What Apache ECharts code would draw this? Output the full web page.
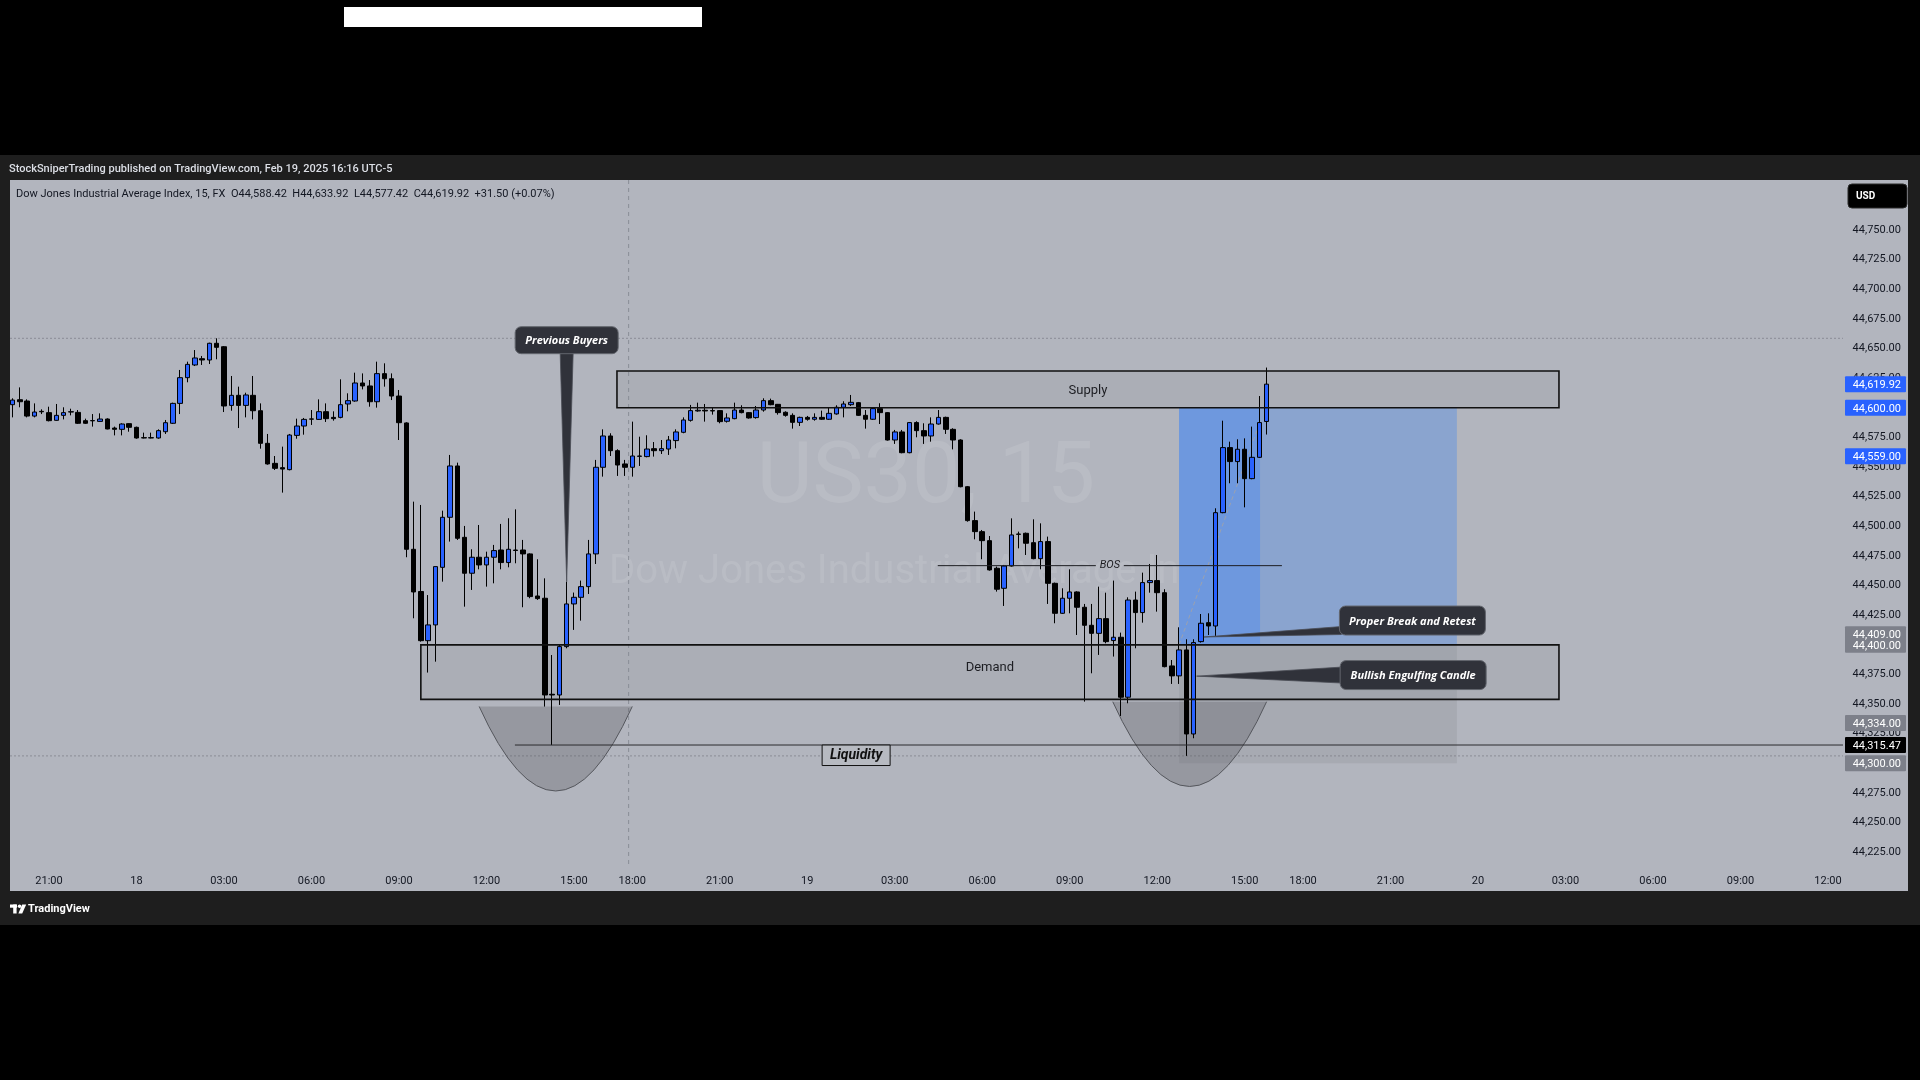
<!DOCTYPE html>
<html><head><meta charset="utf-8">
<script src="https://cdn.jsdelivr.net/npm/echarts@6/dist/echarts.min.js"></script>
<style>html,body{margin:0;padding:0;background:#000;overflow:hidden}#c{width:1920px;height:1080px}</style>
</head><body><div id="c"></div>
<script>
// ================= DATA (15-min bars, US30) =================
const opens = [44602.6,44606.8,44605.7,44593.0,44597.0,44595.9,44589.4,44593.6,44596.4,44596.1,44589.1,44589.2,44588.5,44590.5,44582.9,44581.8,44586.6,44583.5,44574.8,44574.5,
44574.5,44579.8,44586.9,44603.7,44625.4,44636.1,44641.4,44640.3,44654.4,44651.5,44602.0,44610.5,44602.0,44610.5,44597.5,44570.0,44553.1,44549.5,44547.8,44576.7,
44584.6,44590.6,44590.2,44596.7,44591.9,44591.9,44603.2,44605.7,44620.9,44618.4,44605.1,44628.8,44624.5,44609.9,44587.2,44480.6,44445.0,44403.5,44416.8,44465.4,
44507.6,44550.9,44490.7,44460.4,44473.9,44467.4,44473.9,44480.0,44469.4,44480.0,44480.0,44476.7,44441.2,44439.3,44358.3,44357.7,44398.5,44434.5,44440.1,44449.1,
44476.7,44549.8,44576.2,44563.8,44552.6,44549.8,44559.0,44558.8,44565.5,44563.8,44565.2,44572.3,44579.3,44589.4,44597.3,44597.9,44597.6,44597.6,44588.6,44590.8,
44598.1,44595.9,44591.7,44598.1,44606.0,44602.9,44596.2,44593.6,44587.7,44591.9,44590.3,44591.9,44590.3,44594.8,44600.4,44602.6,44604.3,44593.6,44590.3,44599.3,
44595.9,44572.8,44579.6,44562.1,44587.5,44580.7,44576.2,44586.3,44591.9,44581.8,44572.8,44533.4,44504.8,44495.5,44487.9,44464.6,44447.7,44466.5,44493.5,44494.1,
44486.2,44472.7,44487.1,44451.9,44426.6,44439.3,44444.6,44431.7,44416.5,44409.7,44422.1,44403.6,44406.4,44355.8,44437.8,44427.2,44452.5,44454.2,44444.0,44382.2,
44373.8,44395.7,44324.8,44402.7,44418.7,44415.9,44511.5,44566.4,44554.6,44565.0,44540.2,44558.2,44588.42];
const closes = [44606.5,44605.1,44593.0,44596.4,44596.6,44589.1,44593.6,44595.9,44596.7,44586.9,44586.9,44589.0,44590.5,44582.1,44581.8,44586.3,44583.5,44574.5,44574.5,44574.8,
44580.7,44587.4,44603.7,44625.4,44636.6,44642.0,44640.3,44654.4,44651.0,44601.5,44610.5,44602.0,44610.8,44597.5,44570.0,44552.6,44548.9,44548.3,44577.0,44584.6,
44590.2,44590.4,44596.7,44590.8,44590.8,44602.6,44606.0,44620.9,44618.4,44605.1,44628.8,44624.5,44609.9,44587.4,44480.6,44444.6,44403.5,44416.8,44466.0,44507.6,
44550.9,44489.9,44460.4,44473.9,44467.4,44473.9,44479.5,44469.4,44480.6,44479.6,44476.7,44440.7,44439.0,44357.7,44357.7,44398.5,44434.5,44440.1,44449.1,44476.7,
44549.8,44576.2,44563.8,44551.7,44549.8,44559.3,44559.3,44565.2,44563.8,44565.5,44572.8,44579.6,44589.7,44597.6,44597.9,44597.3,44597.3,44588.3,44591.4,44598.1,
44595.9,44591.4,44598.1,44606.0,44602.6,44595.9,44593.6,44587.7,44591.9,44590.3,44591.9,44590.3,44595.3,44600.4,44603.2,44604.6,44593.6,44590.3,44599.3,44595.9,
44572.8,44579.6,44562.1,44587.5,44580.7,44576.2,44586.3,44591.9,44581.8,44572.8,44533.4,44504.8,44495.5,44487.9,44463.2,44446.9,44466.5,44492.7,44493.2,44485.7,
44472.7,44487.1,44451.9,44426.6,44439.3,44444.6,44431.7,44416.5,44409.7,44422.1,44402.7,44406.4,44355.8,44437.8,44427.2,44452.5,44454.2,44444.0,44381.6,44373.8,
44395.7,44324.8,44401.9,44418.2,44415.9,44511.5,44566.4,44554.6,44565.0,44540.2,44558.2,44587.5,44619.92];
const lows = [44591.9,44600.4,44591.9,44591.9,44594.7,44588.5,44589.1,44590.2,44593.6,44586.3,44586.3,44584.1,44588.0,44581.8,44576.7,44576.7,44579.8,44573.9,44574.2,44574.2,
44573.9,44577.9,44586.3,44594.7,44621.5,44635.2,44636.1,44636.9,44640.9,44596.4,44597.5,44582.9,44591.9,44590.2,44565.5,44552.0,44547.5,44528.4,44547.2,44573.9,
44577.3,44585.5,44589.7,44588.0,44589.1,44591.1,44597.0,44605.1,44615.5,44600.9,44600.1,44617.8,44606.5,44572.8,44473.9,44422.4,44402.7,44376.6,44385.8,44453.3,
44487.1,44488.5,44432.2,44446.3,44463.7,44449.1,44451.9,44463.7,44465.4,44468.8,44431.7,44439.3,44437.9,44347.9,44315.5,44349.3,44397.1,44412.6,44420.4,44442.9,
44468.2,44541.9,44559.3,44542.5,44542.5,44541.9,44550.9,44558.2,44558.8,44561.0,44560.2,44565.8,44578.5,44588.3,44596.7,44588.3,44594.2,44586.9,44587.5,44590.3,
44595.3,44590.8,44590.8,44596.7,44602.1,44594.2,44592.5,44582.4,44584.6,44589.1,44589.1,44589.7,44589.7,44594.2,44591.9,44601.5,44593.1,44582.4,44589.7,44586.3,
44572.3,44569.5,44561.6,44561.6,44575.1,44569.5,44571.4,44585.8,44577.9,44564.9,44532.9,44503.9,44489.0,44472.2,44462.6,44444.9,44432.8,44466.0,44481.4,44475.8,
44472.2,44463.7,44434.5,44418.2,44426.1,44426.6,44408.3,44352.1,44376.0,44391.5,44401.3,44390.1,44340.0,44350.7,44397.1,44418.7,44444.0,44428.0,44381.0,44367.0,
44367.0,44306.3,44321.2,44401.9,44408.3,44407.5,44511.0,44536.3,44536.3,44516.0,44539.7,44557.6,44577.42];
const highs = [44608.0,44617.2,44607.1,44603.7,44598.7,44600.9,44603.2,44600.4,44599.2,44598.1,44590.8,44594.7,44595.3,44591.1,44584.1,44586.9,44586.9,44584.1,44579.0,44579.0,
44581.8,44589.7,44604.3,44631.9,44638.9,44648.7,44643.7,44654.9,44658.6,44652.1,44626.8,44617.8,44612.7,44626.8,44603.7,44577.9,44559.3,44567.2,44577.9,44590.8,
44591.4,44598.1,44607.1,44603.7,44597.0,44624.0,44612.2,44629.6,44629.0,44623.4,44638.9,44637.5,44629.0,44615.0,44587.8,44520.8,44518.0,44442.0,44466.0,44513.2,
44560.2,44553.7,44500.3,44480.6,44501.1,44478.6,44484.3,44502.0,44506.8,44514.3,44488.5,44477.2,44472.2,44456.1,44391.4,44399.9,44453.3,44444.1,44454.2,44488.5,
44556.0,44581.8,44578.5,44565.0,44556.0,44588.3,44575.6,44576.8,44571.1,44572.8,44576.2,44581.8,44591.9,44602.4,44604.3,44603.2,44600.4,44598.1,44595.3,44604.3,
44602.1,44596.4,44601.5,44608.0,44607.7,44603.2,44597.0,44595.3,44592.5,44593.1,44595.3,44597.6,44600.4,44602.1,44605.5,44610.8,44604.9,44598.1,44599.8,44603.8,
44596.4,44581.3,44581.3,44588.0,44588.6,44586.9,44591.9,44598.1,44592.5,44582.7,44573.4,44534.0,44512.4,44496.9,44491.8,44466.0,44467.4,44506.7,44495.5,44494.7,
44505.9,44502.5,44491.3,44452.5,44447.7,44463.7,44445.2,44434.5,44434.5,44449.1,44444.0,44454.2,44410.3,44440.1,44444.9,44460.9,44468.2,44475.8,44446.9,44387.2,
44414.8,44404.7,44404.7,44426.0,44426.6,44515.2,44589.1,44571.4,44573.4,44574.2,44584.1,44609.9,44633.92];

// time axis: 15-minute bars from Feb 17 19:45, daily break 17:00-18:00 skipped
const barCount = 251;
const dayLabels = {17:'17', 18:'18', 19:'19', 20:'20'};
const categories = [];
(function(){ let d=17,h=19,m=45;
  while(categories.length<barCount){
    if(h!==17) categories.push(d+' '+String(h).padStart(2,'0')+':'+String(m).padStart(2,'0'));
    m+=15; if(m===60){m=0;h++; if(h===24){h=0;d++;}}
  }})();

// price axis
const priceMin = 44200, priceMax = 44800, priceStep = 25;
const labelRange = [44225, 44750];

// annotation levels (data coordinates: bar index, price)
const supplyZone = {from: 82.9, to: 212.1, top: 44631, bottom: 44600, labelPrice: 44614.0};
const demandZone = {from: 56.0, to: 212.1, top: 44400, bottom: 44354, labelPrice: 44381.0};
const liquidity = {from: 68.9, price: 44315.47, labelAt: 115.7};
const bos = {from: 126.9, to: 174.1, price: 44466.8, labelAt: 150.5};
const longPos = {from: 160.0, now: 171.1, to: 198.1, target: 44600, entry: 44400, stop: 44300, lineEnd: 44588};
const bowls = [{from: 64.0, to: 85.0, top: 44348, bottom: 44276.7}, {from: 150.9, to: 172.0, top: 44352, bottom: 44280.5}];
const callouts = [
  {text: 'Previous Buyers', at: [76.0, 44657], tip: [76.0, 44453.3], side: 'bottom'},
  {text: 'Proper Break and Retest', at: [192.0, 44420.5], tip: [163.4, 44406.6], side: 'left1'},
  {text: 'Bullish Engulfing Candle', at: [192.1, 44374.5], tip: [162.4, 44373.6], side: 'left2'}
];
const axisTags = [[44619.92,'#2962ff','#ffffff'],[44600,'#2962ff','#ffffff'],[44559,'#2962ff','#ffffff'],
  [44409,'#7d808a','#ffffff'],[44400,'#7d808a','#ffffff'],[44334,'#7d808a','#ffffff'],[44315.47,'#000000','#ffffff'],[44300,'#7d808a','#ffffff']];
const sessionBreakAt = 84.5;

// ================= CHART =================
const fmt = v => v.toLocaleString('en-US',{minimumFractionDigits:2,maximumFractionDigits:2});
const chart = echarts.init(document.getElementById('c'), null, {renderer:'canvas', width:1920, height:1080});
const FONT = 'Roboto, "Liberation Sans", sans-serif';

chart.setOption({
  backgroundColor: '#000000',
  animation: false,
  grid: {left: 8.9, top: 170.7, width: 1830.04, height: 711.2},
  xAxis: {type:'category', data: categories, boundaryGap: true,
    axisLine:{show:false}, axisTick:{show:false}, splitLine:{show:false},
    axisLabel:{color:'#131722', fontSize:11, fontFamily:FONT, margin:-6.5,
      interval:(i,v)=>{const t=v.split(' ')[1]; const h=+t.slice(0,2), m=+t.slice(3); return m===0 && h%3===0;},
      formatter:(v)=>{const p=v.split(' '); return p[1]==='00:00'? dayLabels[p[0]] : p[1];}}},
  yAxis: {type:'value', position:'right', min: priceMin, max: priceMax, interval: priceStep,
    axisLine:{show:false}, axisTick:{show:false}, splitLine:{show:false},
    axisLabel:{color:'#131722', fontSize:11, fontFamily:FONT, align:'right', margin:62, padding:[2,0,0,0],
      formatter:(v)=> (v<labelRange[0]||v>labelRange[1]) ? '' : fmt(v)}},
  series: [{type:'candlestick', barWidth:5, z:3,
    data: opens.map((o,i)=>[o, closes[i], lows[i], highs[i]]),
    itemStyle:{color:'#2962ff', color0:'#000000', borderColor:'#000000', borderColor0:'#000000', borderWidth:1}}]
});

const X0 = chart.convertToPixel({xAxisIndex:0}, 0), X1 = chart.convertToPixel({xAxisIndex:0}, 1);
const X = i => X0 + (X1 - X0) * i;
const Y = p => chart.convertToPixel({yAxisIndex:0}, p);
const g = [];
const txt = (text, x, y, font, fill, align, z) => ({type:'text', z: z||20, silent:true,
  style:{text, x, y, font, fill, textAlign: align||'left', align: align||'left', textVerticalAlign:'middle', verticalAlign:'middle'}});

// frame
g.push({type:'rect', z:-30, shape:{x:0,y:155,width:1920,height:770}, style:{fill:'#1e1e1e'}});
g.push({type:'rect', z:-29, shape:{x:10,y:180,width:1898,height:711}, style:{fill:'#b2b5be'}});
g.push({type:'rect', z:-29, shape:{x:344,y:7,width:358,height:20}, style:{fill:'#ffffff'}});
const plotRight = 1843, paneLeft = 10, paneTop = 180, paneBottom = 867;

// watermark
g.push(txt('US30, 15', 926, 480, '86px '+FONT, 'rgba(255,255,255,0.10)', 'center', -25));
g.push(txt('Dow Jones Industrial Average Index', 926, 573, '40px '+FONT, 'rgba(255,255,255,0.10)', 'center', -25));

// range high/low dotted lines and session break
const hi = Math.max(...highs), lo = Math.min(...lows);
[hi, lo].forEach(p => g.push({type:'line', z:-20, shape:{x1:paneLeft, y1:Y(p), x2:plotRight, y2:Y(p)}, style:{stroke:'#8a8d96', lineWidth:1, lineDash:[2,2]}}));
g.push({type:'line', z:-20, shape:{x1:X(sessionBreakAt), y1:paneTop, x2:X(sessionBreakAt), y2:paneBottom}, style:{stroke:'#8a8d96', lineWidth:1, lineDash:[4,4]}});

// long position tool
g.push({type:'rect', z:-15, shape:{x:X(longPos.from), y:Y(longPos.target), width:X(longPos.to)-X(longPos.from), height:Y(longPos.entry)-Y(longPos.target)}, style:{fill:'#8aa4cf'}});
g.push({type:'rect', z:-14, shape:{x:X(longPos.from), y:Y(longPos.target), width:X(longPos.now)-X(longPos.from), height:Y(longPos.entry)-Y(longPos.target)}, style:{fill:'#6e98de'}});
g.push({type:'rect', z:-15, shape:{x:X(longPos.from), y:Y(longPos.entry), width:X(longPos.to)-X(longPos.from), height:Y(longPos.stop)-Y(longPos.entry)}, style:{fill:'rgba(110,112,120,0.16)'}});
g.push({type:'line', z:-13, shape:{x1:X(longPos.from), y1:Y(longPos.entry), x2:X(longPos.now), y2:Y(longPos.lineEnd)}, style:{stroke:'rgba(160,162,170,0.9)', lineWidth:1, lineDash:[4,3]}});

// zones
[[supplyZone,'Supply'],[demandZone,'Demand']].forEach(([z,name]) => {
  const x1 = X(z.from), x2 = X(z.to), y1 = Y(z.top), y2 = Y(z.bottom);
  g.push({type:'rect', z:-12, shape:{x:x1,y:y1,width:x2-x1,height:y2-y1}, style:{fill:'rgba(140,142,150,0.18)'}});
  g.push({type:'rect', z:10, shape:{x:x1,y:y1,width:x2-x1,height:y2-y1}, style:{fill:'none', stroke:'#111111', lineWidth:1.6}});
  g.push(txt(name, (x1+x2)/2, Y(z.labelPrice), '13px '+FONT, '#1c1d22', 'center', 12));
});

// bowls
bowls.forEach(b => {
  const x1 = X(b.from), x2 = X(b.to), yt = Y(b.top), yb = Y(b.bottom);
  g.push({type:'bezierCurve', z:-11, shape:{x1:x1, y1:yt, x2:x2, y2:yt, cpx1:(x1+x2)/2, cpy1: yt + 2*(yb-yt)},
    style:{fill:'rgba(85,86,92,0.3)', stroke:'#55575d', lineWidth:1}});
});

// liquidity ray
const ly = Y(liquidity.price);
g.push({type:'line', z:11, shape:{x1:X(liquidity.from), y1:ly, x2:plotRight, y2:ly}, style:{stroke:'#2b2b2e', lineWidth:1}});
const lcx = X(liquidity.labelAt);
g.push({type:'rect', z:12, shape:{x:lcx-34, y:ly, width:68, height:20.5}, style:{fill:'#b7bac1', stroke:'#111', lineWidth:1}});
g.push(txt('Liquidity', lcx, ly+10.5, 'italic bold 14px '+FONT, '#111111', 'center', 13));

// BOS
const by = Y(bos.price), bx = X(bos.labelAt);
g.push({type:'line', z:11, shape:{x1:X(bos.from), y1:by, x2:bx-14, y2:by}, style:{stroke:'#1e1e22', lineWidth:1}});
g.push({type:'line', z:11, shape:{x1:bx+14, y1:by, x2:X(bos.to), y2:by}, style:{stroke:'#1e1e22', lineWidth:1}});
g.push(txt('BOS', bx, by, 'italic 11px '+FONT, '#1e1e22', 'center', 12));

// callouts
callouts.forEach(c => {
  const cx = X(c.at[0]), cy = Y(c.at[1]), tx = X(c.tip[0]), ty = Y(c.tip[1]);
  const w = c.side==='bottom' ? 103 : 146, h = c.side==='bottom' ? 27 : 29;
  const bx0 = cx - w/2, by0 = cy - h/2;
  let pts;
  if (c.side==='bottom') pts = [[cx-6.5, by0+h-1],[cx+6.5, by0+h-1],[tx, ty]];
  else if (c.side==='left1') pts = [[bx0+2, cy+6],[bx0+2, cy+h/2-0.5],[tx, ty]];
  else pts = [[bx0+2, cy-8],[bx0+2, cy+8],[tx, ty]];
  g.push({type:'polygon', z:14, shape:{points:pts}, style:{fill:'#30323a', stroke:'#4a4d55', lineWidth:0.8}});
  g.push({type:'rect', z:15, shape:{x:bx0, y:by0, width:w, height:h, r:6}, style:{fill:'#30323a', stroke:'#62656d', lineWidth:1}});
  g.push(txt(c.text, cx, cy+1, 'italic bold 11px "Open Sans", '+FONT, '#ffffff', 'center', 16));
});

// price tags on the axis
axisTags.forEach(([p, bg, fg]) => {
  const y = Y(p);
  g.push({type:'rect', z:30, shape:{x:1845, y:y-8, width:61, height:16, r:1}, style:{fill:bg}});
  g.push(txt(fmt(p), 1901, y+1, '11px '+FONT, fg, 'right', 31));
});

// USD badge
g.push({type:'rect', z:30, shape:{x:1848,y:184,width:59,height:24,r:4}, style:{fill:'#000000', stroke:'#2a2a2a', lineWidth:1}});
g.push(txt('USD', 1856, 196.5, 'bold 10px '+FONT, '#ffffff', 'left', 31));

// header and legend
g.push(txt('StockSniperTrading published on TradingView.com, Feb 19, 2025 16:16 UTC-5', 9, 169, '500 11px '+FONT, '#dcdfe6', 'left', 31));
const L = opens.length-1, chg = closes[L]-opens[L];
g.push(txt('Dow Jones Industrial Average Index, 15, FX  O'+fmt(opens[L])+'  H'+fmt(highs[L])+'  L'+fmt(lows[L])+'  C'+fmt(closes[L])+'  +'+chg.toFixed(2)+' (+'+(chg/opens[L]*100).toFixed(2)+'%)',
  16, 194.2, '11px '+FONT, '#131722', 'left', 31));

// TradingView footer logo
g.push({type:'rect', z:31, shape:{x:10,y:904.5,width:7,height:3.2}, style:{fill:'#ffffff'}});
g.push({type:'rect', z:31, shape:{x:13.2,y:904.5,width:3.4,height:9}, style:{fill:'#ffffff'}});
g.push({type:'circle', z:31, shape:{cx:19.6,cy:906.3,r:1.8}, style:{fill:'#ffffff'}});
g.push({type:'polygon', z:31, shape:{points:[[22.2,904.5],[26.2,904.5],[22.2,913.5],[18.4,913.5]]}, style:{fill:'#ffffff'}});
g.push(txt('TradingView', 28, 909.5, 'bold 11px '+FONT, '#ffffff', 'left', 31));

chart.setOption({graphic:{elements:g}});
</script>
</body></html>
